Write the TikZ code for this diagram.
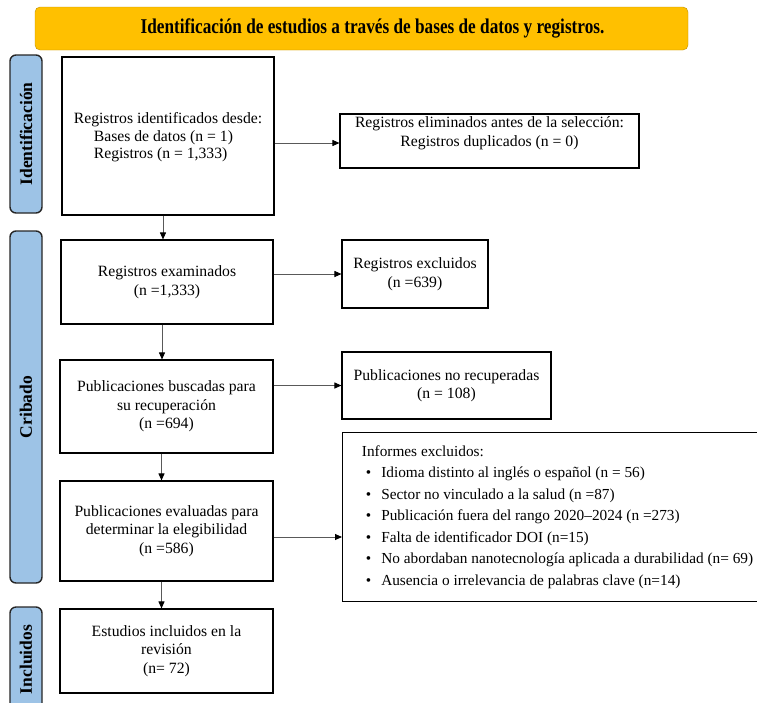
\documentclass[tikz,border=0pt]{standalone}
\usepackage{fontspec}
\setmainfont{Liberation Serif}
\newfontfamily\bannerfont{Liberation Serif}[FakeStretch=0.82]
\usepackage{tikz}
\usetikzlibrary{arrows.meta}
\usetikzlibrary{shapes}

\definecolor{bannerfill}{HTML}{FFC000}
\definecolor{bannerline}{HTML}{BF9000}
\definecolor{phasefill}{HTML}{9DC3E6}

\newcommand{\bul}{\hspace*{4pt}\textbullet\hspace{10pt}}

\begin{document}
\begin{tikzpicture}[
		x=1pt, y=1pt, yscale=-1,
		thin,
		>={Triangle[length=7pt,width=6pt,color=black]},
		box/.style={draw, line width=1.1pt, align=center, inner sep=0pt,
			font=\fontsize{15.7}{18.5}\selectfont},
		phase/.style={draw=black!85, fill=phasefill, line width=1.4pt,
			rounded corners=6pt, rotate=90, minimum height=32, inner sep=0pt,
			font=\fontsize{17.5}{17.5}\selectfont\bfseries},
		link/.style={->, draw=black!65, line width=0.9pt},
	]
		\useasboundingbox (0,0) rectangle (757,702);

		% header
		\node[draw=bannerline, fill=bannerfill, rounded corners=5pt,
			minimum width=653, minimum height=43,
			font=\bannerfont\fontsize{21}{21}\selectfont\bfseries] (head) at (361.5,28.5)
			{\hspace*{22pt}Identificación de estudios a través de bases de datos y registros.};

		% phases
		\node[phase, minimum width=158] (pid) at (26,134) {Identificación};
		\node[phase, minimum width=352] (pcr) at (26,407) {Cribado};
		\node[phase, minimum width=105] (pin) at (26,659.5) {Incluidos};

		% records
		\node[box, align=left, minimum width=212, minimum height=158,
			font=\fontsize{15.7}{17.5}\selectfont] (ident) at (168,136)
			{\mbox{}\\[-4pt]Registros identificados desde:\\
			\hspace*{20pt}Bases de datos (n = 1)\\
			\hspace*{20pt}Registros (n = 1,333)};
		\node[box, minimum width=299, minimum height=54] (dupl) at (489.5,141)
			{Registros eliminados antes de la selección:\\
			Registros duplicados (n = 0)\\ \mbox{}};
		\node[box, minimum width=212, minimum height=84] (exam) at (167,282)
			{Registros examinados\\(n =1,333)};
		\node[box, minimum width=146, minimum height=68] (excl) at (415,274)
			{Registros excluidos\\(n =639)};
		\node[box, minimum width=213, minimum height=93] (sought) at (166.5,406.5)
			{Publicaciones buscadas para\\su recuperación\\(n =694)};
		\node[box, minimum width=209, minimum height=67] (notret) at (446.5,385.5)
			{Publicaciones no recuperadas\\(n = 108)};
		\node[box, minimum width=213, minimum height=100] (elig) at (166.5,531)
			{Publicaciones evaluadas para\\determinar la elegibilidad\\(n =586)};
		\node[box, align=left, anchor=north west, inner xsep=6pt,
			minimum width=430, minimum height=169,
			font=\fontsize{15.3}{21.5}\selectfont] (reports) at (342,432)
			{Informes excluidos:\\
			\bul Idioma distinto al inglés o español (n = 56)\\
			\bul Sector no vinculado a la salud (n =87)\\
			\bul Publicación fuera del rango 2020--2024 (n =273)\\
			\bul Falta de identificador DOI (n=15)\\
			\bul No abordaban nanotecnología aplicada a durabilidad (n= 69)\\
			\bul Ausencia o irrelevancia de palabras clave (n=14)};
		\node[box, minimum width=213, minimum height=84] (incl) at (166.5,651)
			{Estudios incluidos en la\\revisión\\(n= 72)};

		% flow
		\draw [link] ([xshift=-5pt]ident.south) -- ([xshift=-5pt]ident.south |- exam.north);
		\draw [link] ([xshift=-5pt]exam.south) -- ([xshift=-5pt]exam.south |- sought.north);
		\draw [link] ([xshift=-5pt]sought.south) -- ([xshift=-5pt]sought.south |- elig.north);
		\draw [link] ([xshift=-5pt]elig.south) -- ([xshift=-5pt]elig.south |- incl.north);

		% exclusions
		\draw [link] ([yshift=7pt]ident.east) -- ([yshift=7pt]ident.east -| dupl.west);
		\draw [link] (exam.east |- excl.west) -- (excl.west);
		\draw [link] (sought.east |- notret.west) -- (notret.west);
		\draw [link] ([yshift=6pt]elig.east) -- ([yshift=6pt]elig.east -| reports.west);
	\end{tikzpicture}
\end{document}
